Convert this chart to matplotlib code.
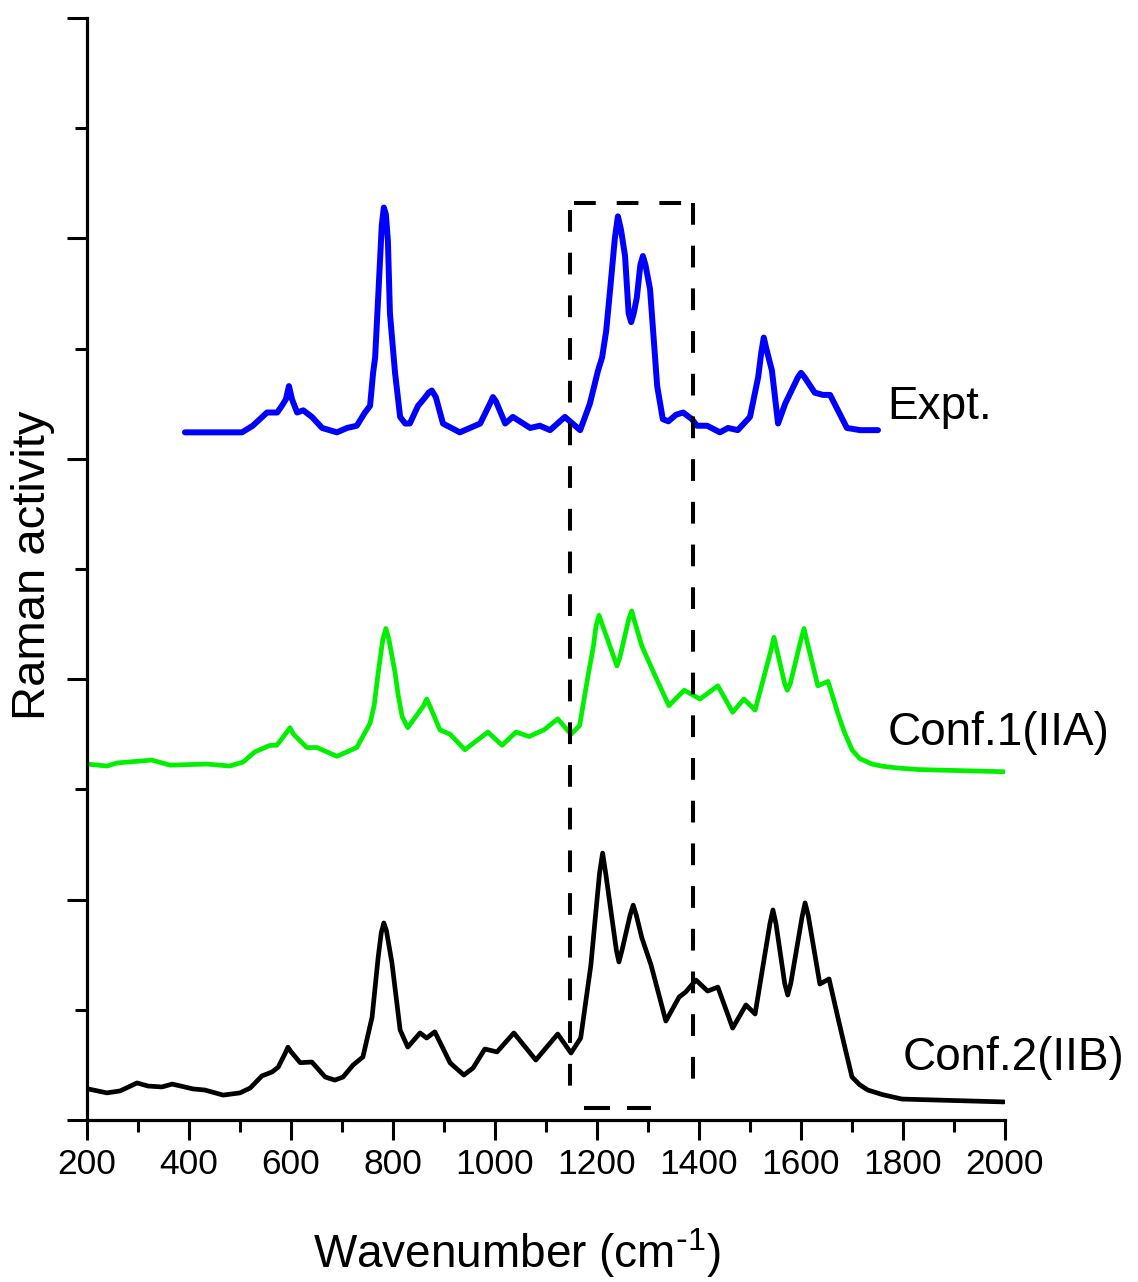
import matplotlib
matplotlib.use("Agg")
import matplotlib.pyplot as plt
from matplotlib.ticker import MultipleLocator, NullFormatter

plt.rcParams['font.family'] = ['Liberation Sans', 'DejaVu Sans']
plt.rcParams['mathtext.default'] = 'regular'

# ---- data ----
expt_x = [392, 504, 525, 553, 573, 582, 590, 596, 602, 612, 624, 641, 661, 690, 710, 729,
          745, 755, 761, 765, 775, 778, 782, 786, 790, 794, 804, 814, 824, 833, 849, 860,
          870, 876, 884, 898, 931, 971, 990, 996, 1002, 1020, 1035, 1069, 1088, 1108, 1137,
          1167, 1186, 1202, 1210, 1218, 1225, 1235, 1241, 1247, 1255, 1262, 1267, 1272,
          1278, 1285, 1290, 1295, 1304, 1318, 1329, 1340, 1355, 1369, 1386, 1396, 1416,
          1441, 1457, 1476, 1500, 1516, 1522, 1527, 1532, 1543, 1555, 1569, 1594, 1600,
          1607, 1627, 1643, 1657, 1690, 1716, 1751]
expt_y = [3.12, 3.12, 3.15, 3.21, 3.21, 3.24, 3.27, 3.33, 3.27, 3.21, 3.22, 3.19, 3.14,
          3.12, 3.14, 3.15, 3.21, 3.24, 3.39, 3.46, 3.92, 4.06, 4.14, 4.11, 3.99, 3.66,
          3.39, 3.19, 3.16, 3.16, 3.24, 3.27, 3.30, 3.31, 3.28, 3.16, 3.12, 3.16, 3.25,
          3.28, 3.26, 3.16, 3.19, 3.14, 3.15, 3.13, 3.19, 3.13, 3.25, 3.40, 3.46, 3.58,
          3.75, 4.00, 4.10, 4.04, 3.92, 3.66, 3.62, 3.66, 3.73, 3.88, 3.92, 3.88, 3.77,
          3.33, 3.18, 3.17, 3.20, 3.21, 3.18, 3.15, 3.15, 3.12, 3.14, 3.13, 3.19, 3.37,
          3.48, 3.55, 3.50, 3.40, 3.16, 3.25, 3.37, 3.39, 3.37, 3.30, 3.29, 3.29, 3.14,
          3.13, 3.13]

conf1_x = [200, 239, 259, 327, 363, 435, 480, 506, 529, 559, 572, 592, 598, 605, 631,
           651, 690, 729, 755, 763, 771, 780, 786, 792, 804, 810, 818, 829, 860, 866, 872,
           892, 912, 941, 986, 1014, 1041, 1067, 1096, 1123, 1149, 1166, 1182, 1193, 1198,
           1204, 1210, 1233, 1239, 1245, 1262, 1268, 1274, 1288, 1315, 1341, 1371, 1402,
           1437, 1466, 1488, 1510, 1541, 1547, 1553, 1568, 1573, 1579, 1600, 1606, 1612,
           1633, 1653, 1673, 1685, 1700, 1715, 1739, 1760, 1790, 1831, 2000]
conf1_y = [1.615, 1.606, 1.62, 1.633, 1.61, 1.615, 1.606, 1.624, 1.67, 1.70, 1.70, 1.76,
           1.78, 1.75, 1.69, 1.69, 1.65, 1.69, 1.80, 1.88, 2.03, 2.18, 2.23, 2.18, 2.03,
           1.93, 1.83, 1.78, 1.88, 1.91, 1.88, 1.77, 1.75, 1.68, 1.76, 1.70, 1.76, 1.74,
           1.77, 1.82, 1.75, 1.79, 2.01, 2.15, 2.24, 2.29, 2.25, 2.10, 2.06, 2.10, 2.27,
           2.31, 2.26, 2.15, 2.01, 1.88, 1.95, 1.91, 1.97, 1.85, 1.91, 1.86, 2.13, 2.19,
           2.13, 1.98, 1.95, 1.98, 2.18, 2.23, 2.17, 1.97, 1.99, 1.84, 1.76, 1.68, 1.64,
           1.615, 1.605, 1.597, 1.59, 1.58]

conf2_x = [202, 239, 265, 298, 320, 347, 367, 408, 431, 467, 500, 520, 543, 563, 575,
           588, 594, 600, 618, 641, 667, 686, 702, 722, 741, 759, 771, 777, 782, 787, 798,
           814, 829, 853, 866, 882, 912, 939, 957, 980, 1004, 1037, 1080, 1123, 1149, 1168,
           1188, 1198, 1205, 1211, 1217, 1238, 1243, 1249, 1265, 1271, 1277, 1288, 1306,
           1335, 1361, 1374, 1394, 1417, 1437, 1466, 1492, 1510, 1539, 1545, 1551, 1568,
           1574, 1580, 1602, 1608, 1614, 1637, 1655, 1673, 1686, 1700, 1715, 1731, 1760,
           1798, 1998]
conf2_y = [0.141, 0.123, 0.132, 0.168, 0.154, 0.150, 0.163, 0.141, 0.136, 0.113, 0.123,
           0.145, 0.20, 0.218, 0.24, 0.30, 0.33, 0.31, 0.26, 0.263, 0.195, 0.181, 0.195,
           0.25, 0.286, 0.467, 0.74, 0.85, 0.894, 0.86, 0.712, 0.408, 0.331, 0.395, 0.372,
           0.40, 0.259, 0.204, 0.236, 0.322, 0.309, 0.395, 0.272, 0.39, 0.304, 0.372,
           0.703, 0.95, 1.12, 1.211, 1.12, 0.77, 0.717, 0.77, 0.93, 0.975, 0.93, 0.826,
           0.703, 0.449, 0.558, 0.581, 0.635, 0.585, 0.603, 0.417, 0.522, 0.481, 0.89,
           0.953, 0.89, 0.62, 0.567, 0.62, 0.92, 0.985, 0.93, 0.617, 0.64, 0.458, 0.33,
           0.195, 0.16, 0.136, 0.115, 0.095, 0.082]

series_labels = ["Expt.", "Conf.1(IIA)", "Conf.2(IIB)"]
series_colors = ["#0000ff", "#00f000", "#000000"]

# dashed highlight box (wavenumber range / heights)
box_x = [1147, 1388]
box_y = [0.07, 4.16]
box_bottom_segments = [(1178, 1221), (1262, 1302)]

fig = plt.figure(figsize=(11.38, 12.82), dpi=100)
ax = fig.add_axes([87/1138, 162/1282, (1005-87)/1138, (1120-18)/1282])

ax.plot(expt_x, expt_y, color=series_colors[0], lw=4.3, solid_joinstyle='round',
        solid_capstyle='round')
ax.plot(conf1_x, conf1_y, color=series_colors[1], lw=3.4, solid_joinstyle='round',
        solid_capstyle='round')
ax.plot(conf2_x, conf2_y, color=series_colors[2], lw=3.4, solid_joinstyle='round',
        solid_capstyle='round')

dash = (5.4, 5.2)
ax.plot([box_x[0], box_x[0]], [box_y[1] - 0.03, box_y[0]], color='black', lw=2.9,
        dashes=dash, clip_on=False)
ax.plot([box_x[0] + 7, box_x[1]], [box_y[1], box_y[1]], color='black', lw=2.9,
        dashes=dash, clip_on=False)
ax.plot([box_x[1], box_x[1]], [box_y[1], box_y[0] + 0.05], color='black', lw=2.9,
        dashes=dash, clip_on=False)
for x0, x1 in box_bottom_segments:
    ax.plot([x0, x1], [box_y[0] - 0.015] * 2, color='black', lw=2.9, clip_on=False)

ax.text(1770, 3.18, series_labels[0], fontsize=33, va='baseline', ha='left')
ax.text(1770, 1.70, series_labels[1], fontsize=33, va='baseline', ha='left')
ax.text(1800, 0.227, series_labels[2], fontsize=33, va='baseline', ha='left')

ax.set_xlim(200, 2000)
ax.set_ylim(0, 5)
ax.xaxis.set_major_locator(MultipleLocator(200))
ax.xaxis.set_minor_locator(MultipleLocator(100))
ax.yaxis.set_major_locator(MultipleLocator(1))
ax.yaxis.set_minor_locator(MultipleLocator(0.5))
ax.yaxis.set_major_formatter(NullFormatter())

for s in ['top', 'right']:
    ax.spines[s].set_visible(False)
for s in ['left', 'bottom']:
    ax.spines[s].set_linewidth(2.3)

ax.tick_params(which='major', direction='out', length=14.5, width=2.2, labelsize=25.5, pad=6)
ax.tick_params(which='minor', direction='out', length=8.5, width=2.2)

fig.text(517/1138, 14/1282, r"Wavenumber (cm$^{\text{-}1}$)", fontsize=33, ha='center',
         va='baseline')
fig.text(33/1138, (1282-565)/1282, "Raman activity", fontsize=34, rotation=90,
         ha='center', va='center')

fig.savefig("out.png", dpi=100, facecolor='white')
